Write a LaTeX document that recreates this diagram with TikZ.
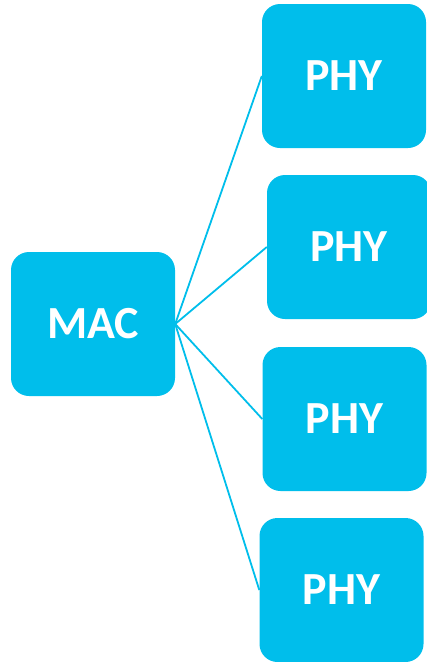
\documentclass[tikz,border=0pt]{standalone}
\usepackage{fontspec}
\setmainfont{Carlito}
\definecolor{boxcyan}{RGB}{0,190,235}
\begin{document}
\begin{tikzpicture}[x=1pt,y=-1pt,
  blk/.style={fill=boxcyan, draw=none, rounded corners=18pt,
    minimum width=164pt, minimum height=144pt, inner sep=0pt,
    text=white, font=\fontsize{46}{50}\selectfont\bfseries},
  link/.style={draw=boxcyan, line width=1.8pt}]
  \clip (0,0) rectangle (427,662);
  \useasboundingbox (0,0) rectangle (427,662);
  \node[blk] (mac) at (93,324) {MAC};
  \node[blk] (phy1) at (344,76) {PHY};
  \node[blk] (phy2) at (349,247) {PHY};
  \node[blk] (phy3) at (344.5,419) {PHY};
  \node[blk] (phy4) at (341.5,590) {PHY};
  \foreach \p in {phy1,phy2,phy3,phy4}
    \draw[link] (mac.east) -- (\p.west);
\end{tikzpicture}
\end{document}
